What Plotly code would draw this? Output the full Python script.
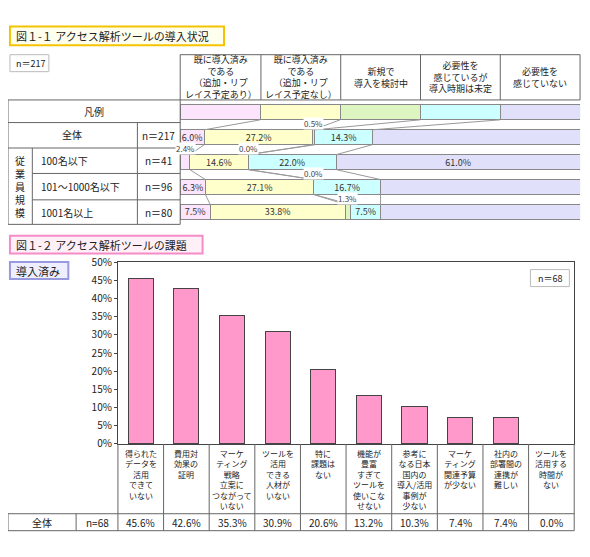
import plotly.graph_objects as go

W, H = 590, 557          # reference pixel grid
FIG_W, FIG_H = 574, 541  # leaves room for the page's body margin
FONT = "Noto Sans CJK JP"

# --- 図1-1 data ---
status_labels = ["既に導入済み<br>である<br>（追加・リプ<br>レイス予定あり）",
                 "既に導入済み<br>である<br>（追加・リプ<br>レイス予定なし）",
                 "新規で<br>導入を検討中",
                 "必要性を<br>感じているが<br>導入時期は未定",
                 "必要性を<br>感じていない"]
status_colors = ["#fce4fc", "#ffffcc", "#ddf5c0", "#ccffff", "#e0e0fa"]
groups = ["全体", "100名以下", "101～1000名以下", "1001名以上"]
group_n = ["n＝217", "n＝41", "n＝96", "n＝80"]
shares = [
    [6.0, 27.2, 0.5, 14.3, 52.1],
    [2.4, 14.6, 0.0, 22.0, 61.0],
    [6.3, 27.1, 0.0, 16.7, 50.0],
    [7.5, 33.8, 1.3, 7.5, 50.0],
]

# --- 図1-2 data ---
issues = ["得られた<br>データを<br>活用<br>できて<br>いない", "費用対<br>効果の<br>証明",
          "マーケ<br>ティング<br>戦略<br>立案に<br>つながって<br>いない",
          "ツールを<br>活用<br>できる<br>人材が<br>いない", "特に<br>課題は<br>ない",
          "機能が<br>豊富<br>すぎて<br>ツールを<br>使いこな<br>せない",
          "参考に<br>なる日本<br>国内の<br>導入/活用<br>事例が<br>少ない",
          "マーケ<br>ティング<br>関連予算<br>が少ない", "社内の<br>部署間の<br>連携が<br>難しい",
          "ツールを<br>活用する<br>時間が<br>ない"]
issue_pct = [45.6, 42.6, 35.3, 30.9, 20.6, 13.2, 10.3, 7.4, 7.4, 0.0]


def px(x):
    return x / W


def py(y):
    return 1 - y / H


fig = go.Figure()
shapes, annos = [], []


def line(x0, y0, x1, y1, color="#666", width=1):
    shapes.append(dict(type="line", xref="paper", yref="paper", x0=px(x0), y0=py(y0),
                       x1=px(x1), y1=py(y1), line=dict(color=color, width=width)))


def rect(x0, y0, x1, y1, line_color="#666", fill=None, width=1):
    shapes.append(dict(type="rect", xref="paper", yref="paper", x0=px(x0), y0=py(y0),
                       x1=px(x1), y1=py(y1), line=dict(color=line_color, width=width),
                       fillcolor=fill or "rgba(0,0,0,0)"))


def text(x, y, s, size=10, xanchor="center", yanchor="middle"):
    annos.append(dict(x=px(x), y=py(y), xref="paper", yref="paper", text=s, showarrow=False,
                      font=dict(size=size, color="#222"), xanchor=xanchor, yanchor=yanchor))


def box_title(x0, y0, x1, y1, s, border, fill):
    shapes.append(dict(type="rect", xref="paper", yref="paper", x0=px(x0), y0=py(y0),
                       x1=px(x1), y1=py(y1), line=dict(color=border, width=2), fillcolor=fill))
    text(x0 + 4, (y0 + y1) / 2, s, size=11, xanchor="left")


# titles
box_title(2, 10, 222, 30, "図１-１ アクセス解析ツールの導入状況", "#f5c400", "#ffffee")
rect(2, 40, 42, 58, "#bbb")
text(6, 49, "n＝217", 9, xanchor="left")

# top header table
cols = [177, 260, 342, 424, 506, 588]
line(177, 40, 588, 40)
for c in cols:
    line(c, 40, c, 88)
for i, lab in enumerate(status_labels):
    text((cols[i] + cols[i + 1]) / 2, 64, lab, 9)
line(0, 88, 588, 88)

# left table
row_edges = [88, 112, 139, 166, 194, 220]
for y in row_edges[1:]:
    line(25 if y in (166, 194) else 0, y, 177, y)
line(0, 88, 0, 220)
line(177, 88, 177, 220)
line(133, 112, 133, 220)
line(25, 139, 25, 220)
text(88, 100, "凡例", 10)
text(66, 125, "全体", 10)
text(12, 180, "従<br>業<br>員<br>規<br>模", 10)
for i, g in enumerate(groups[1:]):
    yc = (row_edges[i + 2] + row_edges[i + 3]) / 2
    text(32, yc, g, 10, xanchor="left")
for i, n in enumerate(group_n):
    yc = (row_edges[i + 1] + row_edges[i + 2]) / 2
    text(155, yc, n, 10)

# top stacked bars: legend row at y=-1, groups at 0..3
ys = list(range(len(groups)))
for k in range(5):
    vals = [row[k] for row in shares]
    labels = [f"{v:.1f}%" if v >= 5 else "" for v in vals]
    fig.add_trace(go.Bar(x=[20] + vals, y=[-1] + ys, orientation="h", width=0.6,
                         marker=dict(color=status_colors[k], line=dict(color="#888", width=1)),
                         text=[""] + labels, textposition="inside", insidetextanchor="middle",
                         textfont=dict(size=9, color="#333"), constraintext="none",
                         cliponaxis=False, xaxis="x", yaxis="y",
                         hoverinfo="skip", showlegend=False))
    for r, v in enumerate(vals):
        if v < 5:
            cum = sum(shares[r][:k])
            fig.add_annotation(x=cum + v / 2, y=r - 0.28, xref="x", yref="y", text=f"{v:.1f}%",
                               showarrow=False, font=dict(size=8, color="#444"), yanchor="bottom",
                               bgcolor="white", borderpad=0)

# connector lines between rows
prev = [20, 40, 60, 80]
for r, row in enumerate(shares):
    cums = [sum(row[:k + 1]) for k in range(4)]
    for a, b in zip(prev, cums):
        fig.add_trace(go.Scatter(x=[a, b], y=[r - 0.7, r - 0.3], mode="lines",
                                 line=dict(color="#999", width=1), xaxis="x", yaxis="y",
                                 hoverinfo="skip", showlegend=False))
    prev = cums

# 図1-2
box_title(2, 232, 200, 251, "図１-２ アクセス解析ツールの課題", "#f58cc8", "#fff0f8")
box_title(2, 260, 62, 278, "導入済み", "#9999dd", "#eeeeff")
rect(537, 268, 577, 286, "#bbb", "#fff")
text(557, 277, "n＝68", 9)

fig.add_trace(go.Bar(x=list(range(len(issues))), y=issue_pct, width=0.55,
                     marker=dict(color="#ff99cc",
                                 line=dict(color="#444", width=[1 if v > 0 else 0 for v in issue_pct])),
                     xaxis="x2", yaxis="y2", hoverinfo="skip", showlegend=False))

# bottom table
x0b, x1b = 113, 582
cw = (x1b - x0b) / len(issues)
line(0, 527, x1b, 527)
line(0, 527, 0, 545)
line(0, 545, x1b, 545)
line(70, 527, 70, 545)
for i in range(len(issues) + 1):
    line(x0b + i * cw, 453, x0b + i * cw, 545)
text(35, 536, "全体", 10)
text(92, 536, "n=68", 10)
for i, (lab, v) in enumerate(zip(issues, issue_pct)):
    xc = x0b + (i + 0.5) * cw
    text(xc, 455, lab, 8, yanchor="top")
    text(xc, 536, f"{v:.1f}%", 10)

fig.update_layout(
    width=FIG_W, height=FIG_H, margin=dict(l=0, r=0, t=0, b=0),
    paper_bgcolor="white", plot_bgcolor="white",
    font=dict(family=FONT, size=10, color="#222"),
    barmode="stack", shapes=shapes, annotations=list(fig.layout.annotations) + annos,
    uniformtext=dict(minsize=8, mode="show"),
    xaxis=dict(domain=[px(177), px(588)], range=[0, 100], visible=False, fixedrange=True),
    yaxis=dict(domain=[py(220), py(88)], range=[3.5, -1.5], visible=False),
    xaxis2=dict(domain=[px(x0b), px(x1b)], range=[-0.5, len(issues) - 0.5], showticklabels=False,
                showline=True, linecolor="#444", mirror=True, ticks="", anchor="y2"),
    yaxis2=dict(domain=[py(453), py(260)], range=[0, 50], dtick=5, ticksuffix="%",
                showline=True, linecolor="#444", mirror=True, showgrid=False, ticks="outside",
                ticklen=3, tickfont=dict(size=10), anchor="x2"),
)

fig.write_html("out.html")
